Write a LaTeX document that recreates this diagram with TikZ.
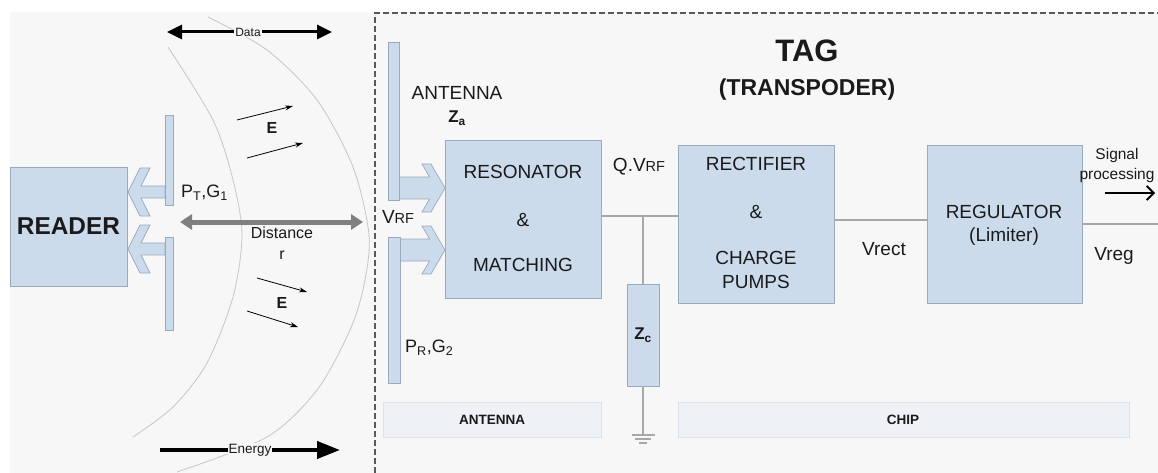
\documentclass[tikz,border=0pt]{standalone}
\usepackage{fontspec}
\setmainfont{Liberation Sans}
\usetikzlibrary{arrows.meta}

\definecolor{bg}{HTML}{F7F7F7}
\definecolor{blk}{HTML}{CCDBEC}
\definecolor{blkline}{HTML}{9AAABD}
\definecolor{wirec}{HTML}{A8A8A8}
\definecolor{bar}{HTML}{EEF2F7}
\definecolor{barline}{HTML}{DCE3EC}
\definecolor{arcc}{HTML}{C6C6C6}
\definecolor{txt}{HTML}{1A1A1A}

\newcommand\fs[1]{\fontsize{#1}{#1}\selectfont}

\begin{document}
\begin{tikzpicture}[x=1pt,y=-1pt,
  every node/.style={inner sep=0pt, text=txt},
  block/.style={draw=blkline, fill=blk, line width=0.9pt, inner sep=0pt},
  antbar/.style={draw=blkline, fill=blk, line width=0.7pt},
  blockarrow/.style={draw=blkline, fill=blk, line width=0.7pt, line join=miter},
  wire/.style={draw=wirec, line width=1.3pt},
  arcline/.style={draw=arcc, line width=0.8pt},
  lbl/.style={font={\fs{19}}},
  boldlbl/.style={font={\bfseries\fs{#1}}},
  strip/.style={draw=barline, fill=bar, line width=0.6pt, inner sep=0pt},
  earrow/.style={draw=black, line width=0.8pt, -{Stealth[length=8,width=5]}},
  pics/leftarr/.style={code={
    \path[blockarrow] (0,0) -- (12,-24) -- (22,-24) -- (13,-6) -- (37,-6)
      -- (37,6) -- (13,6) -- (22,24) -- (12,24) -- cycle;}},
  pics/rightarr/.style={code={
    \path[blockarrow] (0,0) -- (-14,-24) -- (-23,-24) -- (-15.4,-11) -- (-46,-11)
      -- (-46,11) -- (-15.4,11) -- (-23,24) -- (-14,24) -- cycle;}}
]
% page and backdrop
\fill[white] (0,0) rectangle (1158,473);
\fill[bg] (10,12) rectangle (1158,473);
\useasboundingbox (0,0) rectangle (1158,473);

% wave fronts
\draw[arcline] plot[smooth] coordinates {(168,47) (213,120) (233,180) (242,235)
  (233,297) (207,363) (173,407) (133,437)};
\draw[arcline] plot[smooth] coordinates {(208,17) (267,50) (317,100) (353,167)
  (369,235) (364,285) (350,330) (317,390) (267,437) (177,472)};

% tag boundary
\draw[draw=black!65, line width=1.2pt, dash pattern=on 6pt off 3pt]
  (375,473) -- (375,13) -- (1158,13);

% reader
\node[block, minimum width=117, minimum height=119, boldlbl=24.4] (reader) at (68.5,226.5) {READER};
\pic at (128,192) {leftarr};
\pic at (128,249) {leftarr};
\path[antbar] (165,115) rectangle (173,205);
\path[antbar] (165,237) rectangle (173,330);
\node[lbl, font={\fs{18}}, anchor=west] (ptg) at (181,193) {P\textsubscript{T},G\textsubscript{1}};

% data / energy / distance
\coordinate (d1) at (167,32);
\coordinate (d2) at (332,32);
\draw[line width=3pt, {Triangle[length=15,width=14]}-{Triangle[length=15,width=14]}] (d1) -- (d2);
\node[fill=bg, inner xsep=1pt, inner ysep=1pt, font={\fs{12}}] (data) at (248,32) {Data};

\coordinate (e1) at (160,450);
\coordinate (e2) at (340,450);
\draw[line width=4pt, -{Triangle[length=23,width=17]}] (e1) -- (e2);
\node[fill=bg, inner xsep=1pt, inner ysep=1pt, font={\fs{13.5}}] (energy) at (250,450) {Energy};

\coordinate (r1) at (180,222);
\coordinate (r2) at (363,222);
\draw[draw=black!50, line width=5pt, {Triangle[length=12,width=15]}-{Triangle[length=12,width=15]}] (r1) -- (r2);
\node[font={\fs{16}}] (dist) at (282,233) {Distance};
\node[font={\fs{16}}] (rr) at (282,255) {r};

% field vectors
\draw[earrow] (237,120) -- (293,106);
\draw[earrow] (247,158) -- (303,143);
\node[boldlbl=16] (e_up) at (272,128) {E};
\draw[earrow] (257,278) -- (307,292);
\draw[earrow] (247,311) -- (298,327);
\node[boldlbl=16] (e_dn) at (282,303) {E};

% tag antenna
\pic at (445,188) {rightarr};
\pic at (445,250) {rightarr};
\path[antbar] (388,42) rectangle (399,200);
\path[antbar] (388,237) rectangle (400,383);
\node[lbl] (vrf) at (398,217) {V{\fs{14.5}RF}};
\node[lbl] (antlbl) at (457,93) {ANTENNA};
\node[boldlbl=17] (za) at (457,118) {Z\textsubscript{a}};
\node[lbl, font={\fs{18}}, anchor=west] (prg) at (405,348) {P\textsubscript{R},G\textsubscript{2}};

% title
\node[boldlbl=31] (tag) at (807,51) {TAG};
\node[boldlbl=23] (transp) at (807,90) {(TRANSPODER)};

% chip blocks
\node[block, minimum width=156, minimum height=158] (res) at (523,219) {};
\node[lbl] at (523,172) {RESONATOR};
\node[lbl] at (523,220) {\&};
\node[lbl] at (523,265) {MATCHING};

\node[block, minimum width=156, minimum height=158] (rect) at (756,224) {};
\node[lbl] at (756,164) {RECTIFIER};
\node[lbl] at (756,212) {\&};
\node[lbl] at (756,258) {CHARGE};
\node[lbl] at (756,282) {PUMPS};

\node[block, minimum width=155, minimum height=158] (reg) at (1004.5,224) {};
\node[lbl] at (1004,212) {REGULATOR};
\node[lbl] at (1004,237) {(Limiter)};

\node[block, minimum width=32, minimum height=102, boldlbl=17] (zc) at (643,335) {Z\textsubscript{c}};

% wiring
\coordinate (j) at (643,216);
\draw[wire] (res.east |- j) -- (rect.west |- j);
\draw[wire] (j) -- (zc.north);
\coordinate (gnd) at (643,435);
\draw[wire] (zc.south) -- (gnd);
\draw[wire] (631.5,435) -- (654.5,435);
\draw[wire] (635,439) -- (651,439);
\draw[wire] (639,443) -- (647,443);

\coordinate (w2) at (880,220);
\draw[wire] (rect.east |- w2) -- (reg.west |- w2);
\coordinate (out) at (1158,224);
\draw[wire] (reg.east |- out) -- (out);

\node[lbl] (qvrf) at (639,167) {Q.V{\fs{14.5}RF}};
\node[lbl] (vrect) at (884,249) {Vrect};
\node[lbl] (vreg) at (1114,256) {Vreg};
\node[font={\fs{15.5}}] (sig1) at (1117,155) {Signal};
\node[font={\fs{15.5}}] (sig2) at (1117,175) {processing};
\coordinate (s1) at (1105,193);
\coordinate (s2) at (1155,193);
\draw[line width=1.8pt, -{Straight Barb[length=7,width=14]}] (s1) -- (s2);

% section strips
\node[strip, minimum width=218, minimum height=35, boldlbl=13.5] (antstrip) at (492,419.5) {ANTENNA};
\node[strip, minimum width=451, minimum height=35] (chipstrip) at (903.5,419.5) {};
\node[boldlbl=13.5] at (903,420) {CHIP};
\end{tikzpicture}
\end{document}
